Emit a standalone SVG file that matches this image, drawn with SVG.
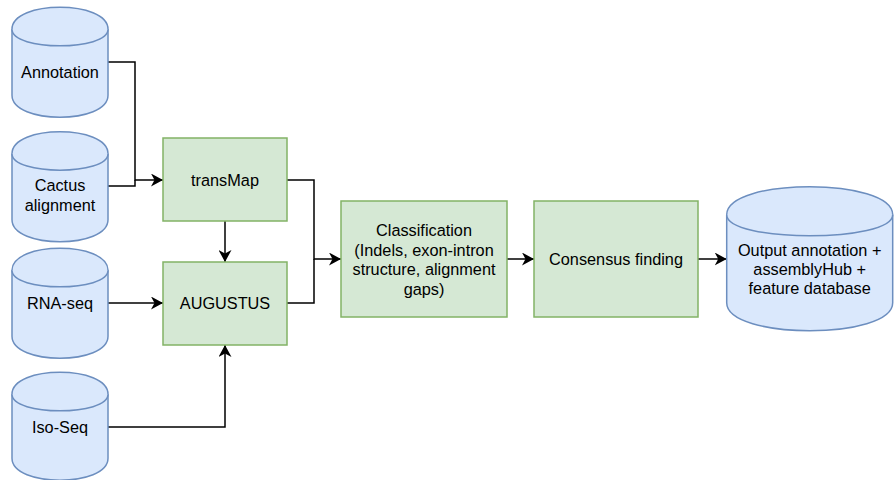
<svg xmlns="http://www.w3.org/2000/svg" width="894" height="480" viewBox="0 0 894 480">
<defs>
<style>
.cyl{fill:#dae8fc;stroke:#6c8ebf;stroke-width:1.5}
.box{fill:#d5e8d4;stroke:#82b366;stroke-width:1.5}
.t{font-family:"Liberation Sans",Arial,Helvetica,sans-serif;font-size:16.3px;fill:#000;text-anchor:middle}
.e{fill:none;stroke:#000;stroke-width:1.5}
</style>
<marker id="arr" viewBox="0 0 12 13" markerWidth="12" markerHeight="13" refX="12" refY="6.5" orient="auto" markerUnits="userSpaceOnUse">
<path d="M0,0 L12,6.5 L0,13 L3.5,6.5 Z" fill="#000"/>
</marker>
</defs>
<rect width="894" height="480" fill="#fff"/>
<g id="connectors">
<path class="e" d="M108,62 H135 V180 H163" marker-end="url(#arr)"/>
<path class="e" d="M108,186 H135 V180"/>
<path class="e" d="M225,221 V262" marker-end="url(#arr)"/>
<path class="e" d="M108,303 H163" marker-end="url(#arr)"/>
<path class="e" d="M108,427 H225 V345" marker-end="url(#arr)"/>
<path class="e" d="M287,180 H314 V259 H341" marker-end="url(#arr)"/>
<path class="e" d="M287,303 H314 V259"/>
<path class="e" d="M507,259 H534" marker-end="url(#arr)"/>
<path class="e" d="M698,259 H726.7" marker-end="url(#arr)"/>
</g>
<g id="annotation">
<path class="cyl" d="M12,29.3 C12,0 108,0 108,29.3 L108,95.3 C108,124.6 12,124.6 12,95.3 Z"/>
<path class="cyl" fill="none" d="M12,29.3 C12,51.3 108,51.3 108,29.3"/>
<text class="t" x="60" y="77.5">Annotation</text>
</g>
<g id="cactus">
<path class="cyl" d="M12,153.7 C12,124.4 108,124.4 108,153.7 L108,219.7 C108,249 12,249 12,219.7 Z"/>
<path class="cyl" d="M12,153.7 C12,175.7 108,175.7 108,153.7"/>
<text class="t" x="60" y="191">Cactus</text>
<text class="t" x="60" y="211">alignment</text>
</g>
<g id="rnaseq">
<path class="cyl" d="M12,270.3 C12,241 108,241 108,270.3 L108,336.3 C108,365.6 12,365.6 12,336.3 Z"/>
<path class="cyl" d="M12,270.3 C12,292.3 108,292.3 108,270.3"/>
<text class="t" x="60" y="308.5">RNA-seq</text>
</g>
<g id="isoseq">
<path class="cyl" d="M12,394.3 C12,365 108,365 108,394.3 L108,458.3 C108,487.6 12,487.6 12,458.3 Z"/>
<path class="cyl" d="M12,394.3 C12,416.3 108,416.3 108,394.3"/>
<text class="t" x="60" y="432.5">Iso-Seq</text>
</g>
<g id="transmap">
<rect class="box" x="163" y="138" width="124" height="83"/>
<text class="t" x="225" y="186">transMap</text>
</g>
<g id="augustus">
<rect class="box" x="163" y="262" width="124" height="83"/>
<text class="t" x="225" y="308.5">AUGUSTUS</text>
</g>
<g id="classification">
<rect class="box" x="341" y="201" width="166" height="116"/>
<text class="t" x="424" y="236">Classification</text>
<text class="t" x="424" y="255.5">(Indels, exon-intron</text>
<text class="t" x="424" y="275">structure, alignment</text>
<text class="t" x="424" y="294.5">gaps)</text>
</g>
<g id="consensus">
<rect class="box" x="534" y="201" width="164" height="116"/>
<text class="t" x="616" y="265">Consensus finding</text>
</g>
<g id="output">
<path class="cyl" d="M726.7,214.7 C726.7,177.4 892.7,177.4 892.7,214.7 L892.7,302.7 C892.7,340 726.7,340 726.7,302.7 Z"/>
<path class="cyl" d="M726.7,214.7 C726.7,242.7 892.7,242.7 892.7,214.7"/>
<text class="t" x="809.7" y="256">Output annotation +</text>
<text class="t" x="809.7" y="275">assemblyHub +</text>
<text class="t" x="809.7" y="293.5">feature database</text>
</g>
</svg>
